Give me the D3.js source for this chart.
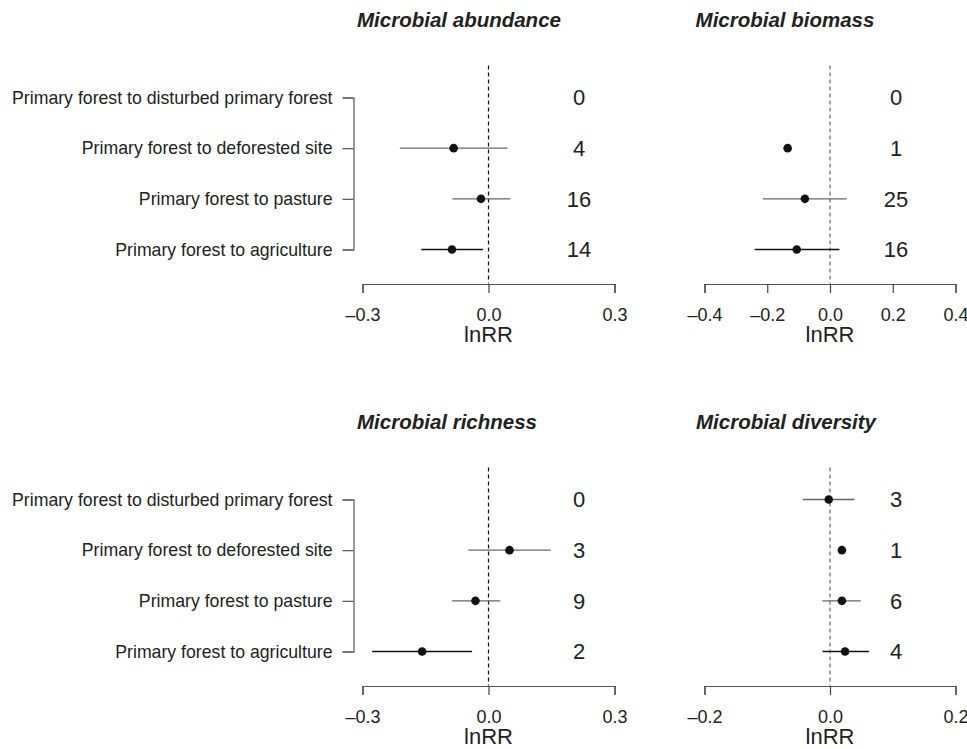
<!DOCTYPE html>
<meta charset="utf-8">
<script src="https://d3js.org/d3.v7.min.js"></script>
<style>
  body { margin: 0; background: #fff; }
  text { font-family: "Liberation Sans", Arial, Helvetica, sans-serif; fill: #222; }
</style>
<svg id="chart" width="967" height="749"></svg>
<script>

  // categories (top to bottom)
  var categories = [
    "Primary forest to disturbed primary forest",
    "Primary forest to deforested site",
    "Primary forest to pasture",
    "Primary forest to agriculture"
  ]

  // Microbial abundance
  var abundanceMean = [null, -0.083, -0.018, -0.087]
  var abundanceLo   = [null, -0.211, -0.086, -0.160]
  var abundanceHi   = [null,  0.045,  0.052, -0.013]
  var abundanceN    = [0, 4, 16, 14]

  // Microbial biomass
  var biomassMean = [null, -0.135, -0.080, -0.106]
  var biomassLo   = [null,   null, -0.214, -0.240]
  var biomassHi   = [null,   null,  0.053,  0.030]
  var biomassN    = [0, 1, 25, 16]

  // Microbial richness
  var richnessMean = [null,  0.050, -0.031, -0.158]
  var richnessLo   = [null, -0.048, -0.087, -0.277]
  var richnessHi   = [null,  0.148,  0.028, -0.039]
  var richnessN    = [0, 3, 9, 2]

  // Microbial diversity
  var diversityMean = [-0.002, 0.019,  0.019,  0.024]
  var diversityLo   = [-0.043,  null, -0.012, -0.012]
  var diversityHi   = [ 0.039,  null,  0.049,  0.062]
  var diversityN    = [3, 1, 6, 4]

  // axis ticks
  var abundanceTicks = [-0.3, 0, 0.3]
  var biomassTicks   = [-0.4, -0.2, 0, 0.2, 0.4]
  var richnessTicks  = [-0.3, 0, 0.3]
  var diversityTicks = [-0.2, 0, 0.2]

  var svg = d3.select("#chart")

  function panel(opts) {
    var x = d3.scaleLinear()
      .domain(d3.extent(opts.ticks))
      .range([opts.x0, opts.x1])
    var y = d3.scalePoint()
      .domain(categories)
      .range([opts.yTop, opts.yTop + 152])

    var g = svg.append("g")

    // title
    g.append("text")
      .attr("x", opts.titleX)
      .attr("y", opts.yTop - 70.5)
      .attr("text-anchor", "middle")
      .style("font-size", "20.5px")
      .style("font-weight", "bold")
      .style("font-style", "italic")
      .text(opts.title)

    // zero reference
    g.append("line")
      .attr("x1", x(0)).attr("x2", x(0))
      .attr("y1", opts.yTop - 32).attr("y2", opts.yTop + 186)
      .attr("stroke", opts.dashColor)
      .attr("stroke-width", 1.2)
      .attr("stroke-dasharray", "4,3")

    // x axis
    var ax = g.append("g")
      .attr("transform", "translate(0," + (opts.yTop + 186.5) + ")")
      .call(d3.axisBottom(x)
        .tickValues(opts.ticks)
        .tickFormat(function(d){ return d3.format(".1f")(d).replace("\u2212", "\u2013") })
        .tickSizeOuter(0)
        .tickSize(9)
        .tickPadding(15))
    ax.select(".domain").attr("stroke", "#555").attr("stroke-width", 1.2)
    ax.selectAll(".tick line").attr("stroke", "#444").attr("stroke-width", 1.2)
    ax.selectAll(".tick text")
      .style("font-size", "18px")
      .style("font-family", "'Liberation Sans', Arial, sans-serif")
      .attr("fill", "#222")

    g.append("text")
      .attr("x", x(0))
      .attr("y", opts.yTop + 244.5)
      .attr("text-anchor", "middle")
      .style("font-size", "22px")
      .text("lnRR")

    // left bracket axis with category labels
    if (opts.labels) {
      var ay = g.append("g")
        .attr("transform", "translate(353.5,0)")
        .call(d3.axisLeft(y).tickSizeOuter(0).tickSize(11).tickPadding(10))
      ay.select(".domain").attr("stroke", "#555").attr("stroke-width", 1.2)
      ay.selectAll(".tick line").attr("stroke", "#555").attr("stroke-width", 1.2)
      ay.selectAll(".tick text")
        .style("font-size", "17.7px")
        .style("font-family", "'Liberation Sans', Arial, sans-serif")
        .attr("fill", "#222")
    }

    var rows = categories.map(function(c, i) {
      return { cat: c, mean: opts.mean[i], lo: opts.lo[i], hi: opts.hi[i], n: opts.n[i], last: i === categories.length - 1 }
    })

    // confidence intervals
    g.selectAll(".ci")
      .data(rows.filter(function(d){ return d.lo !== null && d.hi !== null }))
      .join("line")
        .attr("x1", function(d){ return x(d.lo) })
        .attr("x2", function(d){ return x(d.hi) })
        .attr("y1", function(d){ return y(d.cat) })
        .attr("y2", function(d){ return y(d.cat) })
        .attr("stroke", function(d){ return d.last ? "#111" : "#666" })
        .attr("stroke-width", 1.3)

    // point estimates
    g.selectAll(".pt")
      .data(rows.filter(function(d){ return d.mean !== null }))
      .join("circle")
        .attr("cx", function(d){ return x(d.mean) })
        .attr("cy", function(d){ return y(d.cat) })
        .attr("r", 4.3)
        .attr("fill", "#111")

    // sample sizes
    g.selectAll(".cnt")
      .data(rows)
      .join("text")
        .attr("x", opts.countX)
        .attr("y", function(d){ return y(d.cat) })
        .attr("dy", "0.36em")
        .attr("text-anchor", "middle")
        .style("font-size", "22px")
        .text(function(d){ return d.n })
  }

  panel({ title: "Microbial abundance", titleX: 459, x0: 362.5, x1: 614.5, yTop: 97.5,
          ticks: abundanceTicks, mean: abundanceMean, lo: abundanceLo, hi: abundanceHi, n: abundanceN,
          countX: 579, labels: true, dashColor: "#111" })
  panel({ title: "Microbial biomass", titleX: 785, x0: 704.5, x1: 955.5, yTop: 97.5,
          ticks: biomassTicks, mean: biomassMean, lo: biomassLo, hi: biomassHi, n: biomassN,
          countX: 896, labels: false, dashColor: "#666" })
  panel({ title: "Microbial richness", titleX: 447, x0: 362.5, x1: 614.5, yTop: 499.5,
          ticks: richnessTicks, mean: richnessMean, lo: richnessLo, hi: richnessHi, n: richnessN,
          countX: 579, labels: true, dashColor: "#111" })
  panel({ title: "Microbial diversity", titleX: 786, x0: 704.5, x1: 955.5, yTop: 499.5,
          ticks: diversityTicks, mean: diversityMean, lo: diversityLo, hi: diversityHi, n: diversityN,
          countX: 896, labels: false, dashColor: "#666" })

</script>
